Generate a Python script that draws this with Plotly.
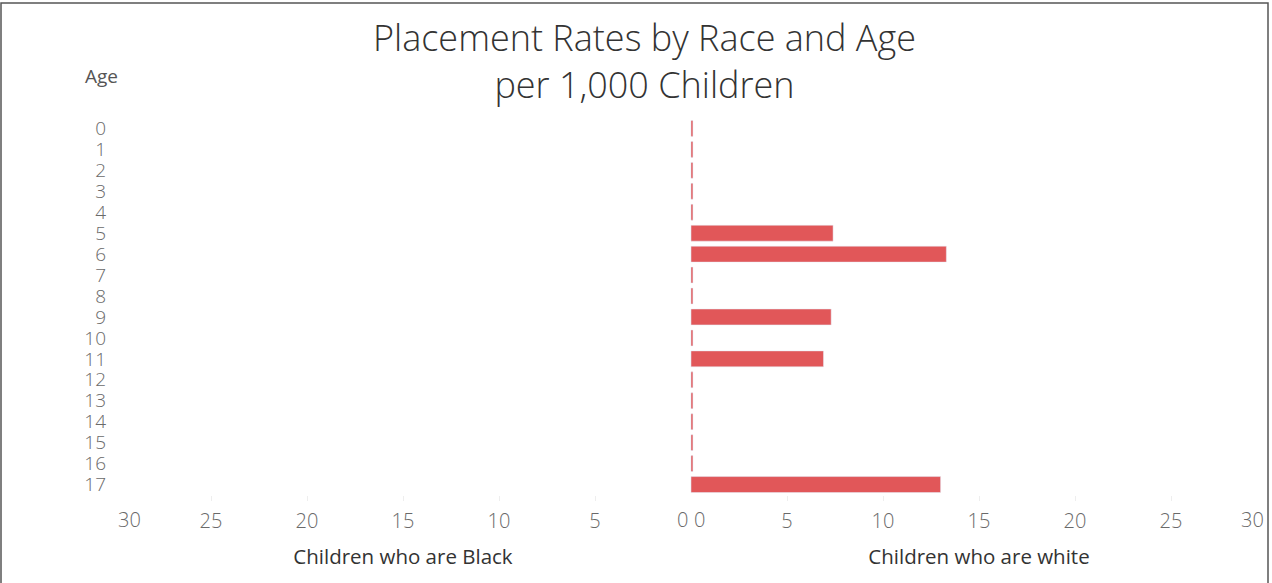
import plotly.graph_objects as go

# Data
ages = [str(a) for a in range(18)]
black_rate = [0] * 18
white_rate = [0.1, 0.1, 0.1, 0.1, 0.1, 7.4, 13.3, 0.1, 0.1, 7.3,
              0.1, 6.9, 0.1, 0.1, 0.1, 0.1, 0.1, 13.0]
tick_vals = [5, 10, 15, 20, 25]

BAR = "#E15759"
GRAY = "#6a6a6a"
DARK = "#333333"
FONT = "Open Sans"
tick_font = dict(family=FONT, size=20, color=GRAY, weight=300)
ytick_font = dict(family=FONT, size=19, color=GRAY, weight=300)

fig = go.Figure()

fig.add_trace(go.Bar(y=ages, x=black_rate, orientation="h", marker_color=BAR,
                     width=0.76, xaxis="x", yaxis="y", showlegend=False))
fig.add_trace(go.Bar(y=ages, x=white_rate, orientation="h", marker_color=BAR,
                     width=0.76, xaxis="x2", yaxis="y2", showlegend=False))

axis_common = dict(tickvals=tick_vals, showgrid=False, zeroline=False,
                   ticks="outside", ticklen=5, tickcolor="#eeeeee",
                   ticklabelstandoff=3,
                   tickfont=tick_font, showline=False, automargin=False)

fig.update_layout(
    width=1272, height=583,
    margin=dict(l=115, r=5, t=118, b=88),
    paper_bgcolor="white", plot_bgcolor="white",
    xaxis=dict(domain=[0, 0.5], range=[30, 0], **axis_common,
               title=dict(text="Children who are Black", standoff=16,
                          font=dict(family=FONT, size=20.5, color=DARK))),
    xaxis2=dict(domain=[0.5, 1], range=[0, 30], anchor="y2", **axis_common,
                title=dict(text="Children who are white", standoff=16,
                           font=dict(family=FONT, size=20.5, color=DARK))),
    yaxis=dict(tickmode="array", tickvals=ages, ticktext=ages,
               categoryorder="array", categoryarray=ages, autorange="reversed",
               showgrid=False, zeroline=False, ticks="", ticklabelstandoff=8,
               automargin=False, tickfont=ytick_font),
    yaxis2=dict(categoryorder="array", categoryarray=ages, autorange="reversed",
                anchor="x2", matches="y", showticklabels=False,
                showgrid=False, zeroline=False, automargin=False),
)

# Title
fig.add_annotation(text="Placement Rates by Race and Age<br>per 1,000 Children",
                   xref="paper", yref="paper", x=(644 - 115) / 1152, y=(495 - 61.5) / 377,
                   xanchor="center", yanchor="middle", showarrow=False, align="center",
                   font=dict(family=FONT, size=36, color=DARK, weight=300))

# Edge tick labels, nudged inside like the reference
for xref, val, anchor in [("x", 0, "right"), ("x2", 0, "left"),
                          ("x", 30, "left"), ("x2", 30, "right")]:
    fig.add_annotation(x=val, xref=xref, y=0, yref="paper", yanchor="top", yshift=-9,
                       xanchor=anchor, xshift=(-1 if anchor == "right" else 1),
                       text=str(val), showarrow=False, font=tick_font)

fig.add_annotation(text="Age", xref="paper", yref="paper", x=-32 / 1152, y=(495 - 76) / 377,
                   xanchor="left", yanchor="middle", showarrow=False,
                   font=dict(family=FONT, size=19, color="#555555", weight=500))

# Outer frame
fig.add_shape(type="rect", xref="paper", yref="paper",
              x0=-114 / 1152, x1=1153 / 1152, y0=-0.3, y1=(495 - 3) / 377,
              line=dict(color="#555555", width=1.5), fillcolor="rgba(0,0,0,0)")

fig.write_html("out.html", config={"displayModeBar": False},
               post_script="document.body.style.margin='0px';")
